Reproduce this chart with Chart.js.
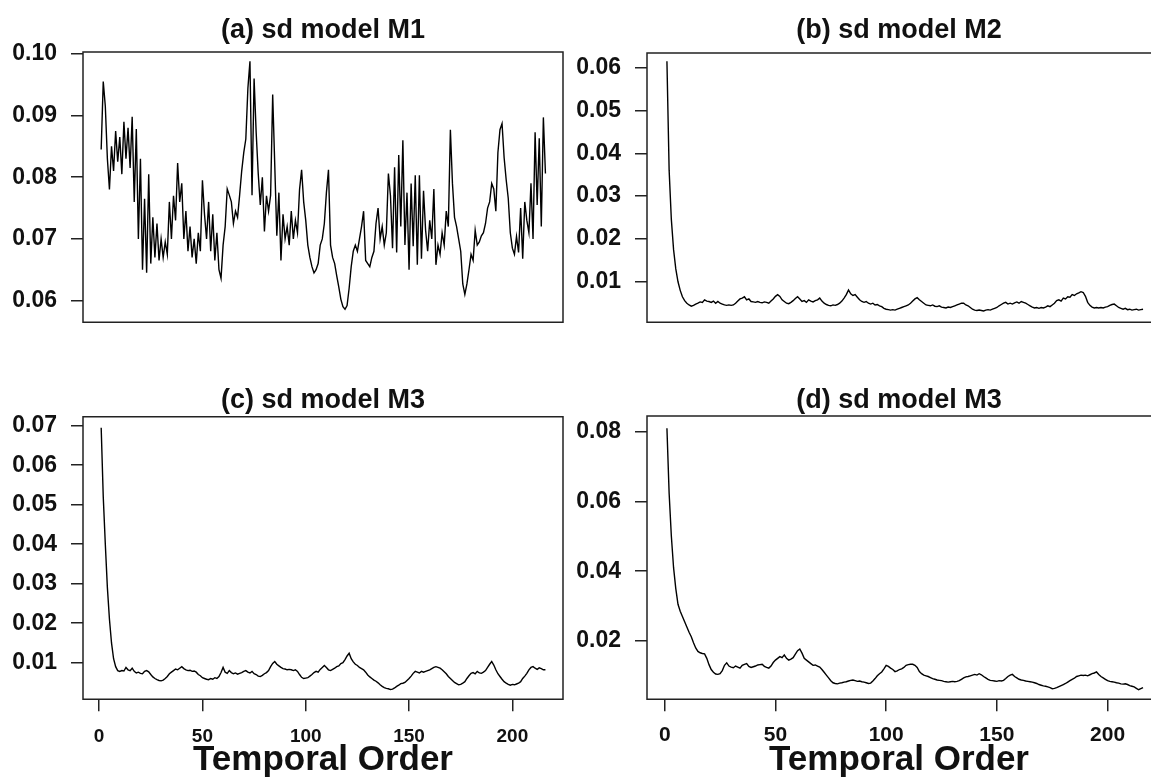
<!DOCTYPE html>
<html><head><meta charset="utf-8">
<script src="https://cdn.jsdelivr.net/npm/chart.js@4.4.1/dist/chart.umd.min.js"></script>
<style>
html,body{margin:0;padding:0;background:#fff;width:1151px;height:778px;overflow:hidden;position:relative;}
canvas{position:absolute;}
</style></head><body>
<canvas id="pa" width="575" height="350" style="left:0;top:0;width:575px;height:350px"></canvas>
<canvas id="pb" width="576" height="350" style="left:575px;top:0;width:576px;height:350px"></canvas>
<canvas id="pc" width="575" height="428" style="left:0;top:350px;width:575px;height:428px"></canvas>
<canvas id="pd" width="576" height="428" style="left:575px;top:350px;width:576px;height:428px"></canvas>
<script>
// ---------- data ----------
const panelTitles = ['(a) sd model M1', '(b) sd model M2', '(c) sd model M3', '(d) sd model M3'];
const xAxisTitle = 'Temporal Order';
const xTickValues = [0, 50, 100, 150, 200];
const xTickLabels = ['0', '50', '100', '150', '200'];

const yTicksA = [0.06, 0.07, 0.08, 0.09, 0.10];
const yLabelsA = ['0.06', '0.07', '0.08', '0.09', '0.10'];
const yTicksB = [0.01, 0.02, 0.03, 0.04, 0.05, 0.06];
const yLabelsB = ['0.01', '0.02', '0.03', '0.04', '0.05', '0.06'];
const yTicksC = [0.01, 0.02, 0.03, 0.04, 0.05, 0.06, 0.07];
const yLabelsC = ['0.01', '0.02', '0.03', '0.04', '0.05', '0.06', '0.07'];
const yTicksD = [0.02, 0.04, 0.06, 0.08];
const yLabelsD = ['0.02', '0.04', '0.06', '0.08'];

const sdM1 = [
0.0845,0.0955,0.0915,0.0830,0.0780,0.0850,0.0810,0.0875,0.0825,0.0865,
0.0805,0.0890,0.0830,0.0880,0.0815,0.0898,0.0760,0.0878,0.0700,0.0830,
0.0650,0.0765,0.0645,0.0805,0.0660,0.0735,0.0670,0.0725,0.0665,0.0700,
0.0670,0.0695,0.0675,0.0760,0.0700,0.0770,0.0730,0.0823,0.0760,0.0790,
0.0700,0.0745,0.0680,0.0720,0.0670,0.0700,0.0660,0.0710,0.0680,0.0795,
0.0740,0.0700,0.0760,0.0680,0.0740,0.0665,0.0710,0.0650,0.0636,0.0690,
0.0720,0.0781,0.0771,0.0760,0.0725,0.0745,0.0735,0.0771,0.0810,0.0840,
0.0862,0.0944,0.0988,0.0771,0.0960,0.0873,0.0806,0.0755,0.0800,0.0712,
0.0770,0.0745,0.0771,0.0934,0.0820,0.0705,0.0775,0.0665,0.0740,0.0700,
0.0720,0.0690,0.0745,0.0700,0.0730,0.0710,0.0780,0.0812,0.0760,0.0730,
0.0690,0.0670,0.0655,0.0645,0.0650,0.0660,0.0690,0.0700,0.0725,0.0775,
0.0812,0.0690,0.0670,0.0660,0.0640,0.0622,0.0602,0.0590,0.0586,0.0592,
0.0620,0.0655,0.0680,0.0690,0.0680,0.0700,0.0720,0.0745,0.0665,0.0660,
0.0655,0.0670,0.0680,0.0725,0.0750,0.0700,0.0720,0.0690,0.0710,0.0806,
0.0770,0.0685,0.0816,0.0678,0.0836,0.0720,0.0860,0.0690,0.0775,0.0650,
0.0790,0.0688,0.0803,0.0658,0.0803,0.0668,0.0778,0.0714,0.0680,0.0730,
0.0700,0.0781,0.0658,0.0690,0.0675,0.0710,0.0690,0.0745,0.0720,0.0877,
0.0790,0.0735,0.0720,0.0700,0.0680,0.0627,0.0610,0.0627,0.0650,0.0675,
0.0665,0.0714,0.0690,0.0695,0.0705,0.0710,0.0725,0.0750,0.0760,0.0790,
0.0781,0.0745,0.0840,0.0877,0.0887,0.0832,0.0796,0.0766,0.0710,0.0685,
0.0675,0.0704,0.0678,0.0750,0.0668,0.0760,0.0730,0.0710,0.0790,0.0700,
0.0873,0.0755,0.0863,0.0720,0.0897,0.0806
];

const sdM2 = [
0.0615,0.0360,0.0245,0.0175,0.0130,0.0100,0.0080,0.0065,0.0056,0.0050,
0.0046,0.0043,0.0045,0.0048,0.0050,0.0053,0.0052,0.0058,0.0055,0.0054,
0.0052,0.0055,0.0050,0.0054,0.0050,0.0048,0.0046,0.0045,0.0046,0.0045,
0.0046,0.0050,0.0055,0.0060,0.0062,0.0065,0.0058,0.0060,0.0054,0.0053,
0.0052,0.0054,0.0052,0.0051,0.0053,0.0052,0.0050,0.0055,0.0060,0.0066,
0.0070,0.0066,0.0058,0.0054,0.0050,0.0049,0.0052,0.0056,0.0061,0.0065,
0.0060,0.0054,0.0056,0.0052,0.0058,0.0055,0.0053,0.0056,0.0058,0.0062,
0.0055,0.0050,0.0047,0.0045,0.0044,0.0046,0.0045,0.0047,0.0050,0.0055,
0.0062,0.0070,0.0081,0.0072,0.0068,0.0070,0.0064,0.0058,0.0054,0.0052,
0.0054,0.0050,0.0048,0.0050,0.0046,0.0047,0.0044,0.0042,0.0038,0.0036,
0.0035,0.0034,0.0035,0.0034,0.0036,0.0038,0.0040,0.0042,0.0044,0.0046,
0.0050,0.0055,0.0060,0.0063,0.0058,0.0054,0.0050,0.0046,0.0045,0.0044,
0.0046,0.0043,0.0042,0.0044,0.0041,0.0040,0.0039,0.0041,0.0040,0.0042,
0.0044,0.0046,0.0048,0.0050,0.0050,0.0046,0.0044,0.0040,0.0036,0.0034,
0.0033,0.0034,0.0033,0.0032,0.0034,0.0035,0.0034,0.0036,0.0038,0.0040,
0.0044,0.0047,0.0050,0.0052,0.0048,0.0050,0.0048,0.0051,0.0053,0.0050,
0.0054,0.0052,0.0050,0.0047,0.0044,0.0041,0.0039,0.0040,0.0038,0.0040,
0.0039,0.0041,0.0044,0.0042,0.0046,0.0050,0.0056,0.0058,0.0055,0.0062,
0.0060,0.0065,0.0064,0.0070,0.0068,0.0072,0.0074,0.0077,0.0075,0.0066,
0.0052,0.0045,0.0041,0.0039,0.0040,0.0039,0.0040,0.0039,0.0041,0.0042,
0.0045,0.0047,0.0048,0.0044,0.0040,0.0038,0.0036,0.0038,0.0035,0.0036,
0.0034,0.0035,0.0036,0.0034,0.0035,0.0036
];

const sdM3c = [
0.0695,0.0520,0.0400,0.0290,0.0210,0.0150,0.0110,0.0090,0.0080,0.0078,
0.0080,0.0079,0.0088,0.0082,0.0080,0.0086,0.0078,0.0074,0.0076,0.0073,
0.0072,0.0078,0.0080,0.0077,0.0070,0.0064,0.0060,0.0057,0.0055,0.0054,
0.0056,0.0060,0.0065,0.0072,0.0076,0.0080,0.0084,0.0082,0.0086,0.0090,
0.0085,0.0082,0.0080,0.0081,0.0078,0.0079,0.0076,0.0070,0.0067,0.0062,
0.0060,0.0058,0.0057,0.0060,0.0058,0.0062,0.0060,0.0065,0.0075,0.0088,
0.0076,0.0073,0.0080,0.0075,0.0072,0.0074,0.0071,0.0073,0.0075,0.0078,
0.0080,0.0076,0.0074,0.0078,0.0072,0.0070,0.0066,0.0065,0.0068,0.0072,
0.0075,0.0080,0.0090,0.0098,0.0103,0.0096,0.0092,0.0088,0.0085,0.0084,
0.0082,0.0083,0.0082,0.0080,0.0082,0.0078,0.0070,0.0063,0.0060,0.0061,
0.0062,0.0066,0.0070,0.0075,0.0078,0.0076,0.0083,0.0088,0.0093,0.0088,
0.0082,0.0080,0.0083,0.0086,0.0090,0.0092,0.0098,0.0100,0.0108,0.0117,
0.0124,0.0110,0.0102,0.0096,0.0093,0.0088,0.0085,0.0082,0.0076,0.0069,
0.0064,0.0060,0.0056,0.0053,0.0049,0.0044,0.0040,0.0037,0.0035,0.0034,
0.0032,0.0033,0.0036,0.0040,0.0043,0.0047,0.0048,0.0050,0.0055,0.0060,
0.0066,0.0073,0.0078,0.0076,0.0074,0.0078,0.0076,0.0078,0.0080,0.0082,
0.0085,0.0088,0.0090,0.0088,0.0086,0.0082,0.0077,0.0072,0.0065,0.0060,
0.0055,0.0050,0.0047,0.0044,0.0045,0.0048,0.0052,0.0060,0.0067,0.0073,
0.0075,0.0072,0.0078,0.0074,0.0073,0.0076,0.0080,0.0088,0.0096,0.0103,
0.0094,0.0082,0.0072,0.0065,0.0058,0.0052,0.0048,0.0045,0.0043,0.0045,
0.0044,0.0046,0.0048,0.0052,0.0060,0.0066,0.0073,0.0082,0.0088,0.0090,
0.0086,0.0083,0.0087,0.0085,0.0082,0.0082
];

const sdM3d = [
0.0810,0.0623,0.0500,0.0410,0.0350,0.0305,0.0285,0.0270,0.0255,0.0240,
0.0225,0.0212,0.0195,0.0180,0.0170,0.0166,0.0164,0.0163,0.0150,0.0132,
0.0118,0.0110,0.0105,0.0104,0.0106,0.0115,0.0130,0.0137,0.0128,0.0125,
0.0123,0.0128,0.0125,0.0122,0.0130,0.0133,0.0135,0.0127,0.0124,0.0126,
0.0128,0.0131,0.0132,0.0133,0.0127,0.0124,0.0122,0.0128,0.0138,0.0145,
0.0150,0.0155,0.0152,0.0160,0.0150,0.0145,0.0148,0.0152,0.0162,0.0172,
0.0177,0.0165,0.0150,0.0145,0.0140,0.0135,0.0130,0.0131,0.0128,0.0125,
0.0118,0.0110,0.0102,0.0094,0.0086,0.0080,0.0078,0.0077,0.0079,0.0080,
0.0082,0.0083,0.0085,0.0087,0.0088,0.0086,0.0084,0.0085,0.0083,0.0082,
0.0080,0.0078,0.0079,0.0085,0.0092,0.0100,0.0106,0.0111,0.0120,0.0130,
0.0127,0.0122,0.0118,0.0112,0.0114,0.0118,0.0120,0.0124,0.0130,0.0132,
0.0133,0.0133,0.0130,0.0124,0.0112,0.0106,0.0102,0.0100,0.0098,0.0095,
0.0092,0.0090,0.0088,0.0087,0.0086,0.0084,0.0083,0.0082,0.0083,0.0084,
0.0083,0.0084,0.0086,0.0090,0.0094,0.0097,0.0098,0.0100,0.0102,0.0104,
0.0102,0.0106,0.0103,0.0098,0.0094,0.0090,0.0087,0.0086,0.0085,0.0084,
0.0086,0.0085,0.0087,0.0092,0.0098,0.0102,0.0104,0.0098,0.0094,0.0090,
0.0088,0.0087,0.0085,0.0084,0.0083,0.0082,0.0080,0.0078,0.0075,0.0073,
0.0071,0.0070,0.0068,0.0066,0.0063,0.0064,0.0066,0.0069,0.0072,0.0075,
0.0078,0.0082,0.0086,0.0090,0.0093,0.0098,0.0100,0.0102,0.0101,0.0102,
0.0100,0.0103,0.0106,0.0108,0.0111,0.0104,0.0098,0.0094,0.0090,0.0086,
0.0084,0.0083,0.0082,0.0080,0.0079,0.0077,0.0076,0.0077,0.0075,0.0072,
0.0070,0.0068,0.0064,0.0060,0.0063,0.0066
];

// ---------- drawing ----------
Chart.defaults.font.family = '"Liberation Sans", Arial, Helvetica, sans-serif';
Chart.defaults.font.weight = 'bold';
Chart.defaults.color = '#111';

const framePlugin = {
  id: 'frame',
  afterDraw(chart, args, opts) {
    const {ctx, chartArea: a} = chart;
    ctx.save();
    ctx.strokeStyle = '#222';
    ctx.lineWidth = 1.5;
    ctx.beginPath();
    if (opts.right) {
      ctx.rect(a.left, a.top, a.right - a.left, a.bottom - a.top);
    } else {
      ctx.moveTo(a.right + 5, a.top);
      ctx.lineTo(a.left, a.top);
      ctx.lineTo(a.left, a.bottom);
      ctx.lineTo(a.right + 5, a.bottom);
    }
    ctx.stroke();
    ctx.restore();
  }
};

function makePanel(canvasId, p) {
  const points = p.values.map((v, i) => ({x: i + 1, y: v}));
  return new Chart(document.getElementById(canvasId), {
    type: 'line',
    data: {datasets: [{data: points, borderColor: '#000', borderWidth: 1.4,
      pointRadius: 0, fill: false, tension: 0}]},
    options: {
      responsive: false, animation: false, devicePixelRatio: 1, events: [],
      layout: {padding: p.padding},
      plugins: {
        legend: {display: false},
        tooltip: {enabled: false},
        title: {display: true, text: p.title, fullSize: false, color: '#111',
          font: {size: 27, weight: 'bold', lineHeight: 1}, padding: p.titlePad},
        frame: {right: p.frameRight}
      },
      scales: {
        x: {
          type: 'linear', bounds: 'data', min: p.xMin, max: p.xMax, display: p.showX,
          afterBuildTicks: s => { s.ticks = xTickValues.map(v => ({value: v})); },
          afterFit: s => { if (p.showX) s.height = p.xAxisHeight; },
          grid: {drawOnChartArea: false, drawTicks: true, tickLength: 12, color: '#222', lineWidth: 1.5},
          border: {display: false},
          ticks: {autoSkip: false, maxRotation: 0, padding: p.xTickPad, color: '#111',
            font: {size: p.xTickSize, weight: 'bold'},
            callback: (v, i) => xTickLabels[i]},
          title: {display: p.showX, text: xAxisTitle, color: '#111',
            font: {size: 35, weight: 'bold', lineHeight: 1}, padding: {top: 0, bottom: 0.5}}
        },
        y: {
          type: 'linear', bounds: 'data', min: p.yMin, max: p.yMax,
          afterBuildTicks: s => { s.ticks = p.yTicks.map(v => ({value: v})); },
          afterFit: s => { s.width = p.yAxisWidth; },
          grid: {drawOnChartArea: false, drawTicks: true, tickLength: 12, color: '#222', lineWidth: 1.5},
          border: {display: false},
          ticks: {autoSkip: false, padding: 14, color: '#111',
            font: {size: 23, weight: 'bold'},
            callback: (v, i) => p.yLabels[i]}
        }
      }
    },
    plugins: [framePlugin]
  });
}

makePanel('pa', {
  title: panelTitles[0], values: sdM1, yTicks: yTicksA, yLabels: yLabelsA,
  yMin: 0.0565, yMax: 0.1003, xMin: -7.8, xMax: 224.5, showX: false,
  padding: {left: 0, right: 12, top: 0, bottom: 13}, titlePad: {top: 17.5, bottom: 7.5},
  yAxisWidth: 83, frameRight: true
});
makePanel('pb', {
  title: panelTitles[1], values: sdM2, yTicks: yTicksB, yLabels: yLabelsB,
  yMin: 0.00057, yMax: 0.0634, xMin: -8, xMax: 219.6, showX: false,
  padding: {left: 0, right: 0, top: 0, bottom: 15}, titlePad: {top: 16.8, bottom: 9.2},
  yAxisWidth: 72, frameRight: false
});
makePanel('pc', {
  title: panelTitles[2], values: sdM3c, yTicks: yTicksC, yLabels: yLabelsC,
  yMin: 0.00073, yMax: 0.07228, xMin: -7.8, xMax: 224.5, showX: true,
  xAxisHeight: 78.7, xTickPad: 14, xTickSize: 19,
  padding: {left: 0, right: 12, top: 0, bottom: 0}, titlePad: {top: 37.5, bottom: 2.2},
  yAxisWidth: 83, frameRight: true
});
makePanel('pd', {
  title: panelTitles[3], values: sdM3d, yTicks: yTicksD, yLabels: yLabelsD,
  yMin: 0.00326, yMax: 0.0845, xMin: -8, xMax: 219.6, showX: true,
  xAxisHeight: 78.7, xTickPad: 11.5, xTickSize: 21,
  padding: {left: 0, right: 0, top: 0, bottom: 0}, titlePad: {top: 37, bottom: 2},
  yAxisWidth: 72, frameRight: false
});
</script>
</body></html>
